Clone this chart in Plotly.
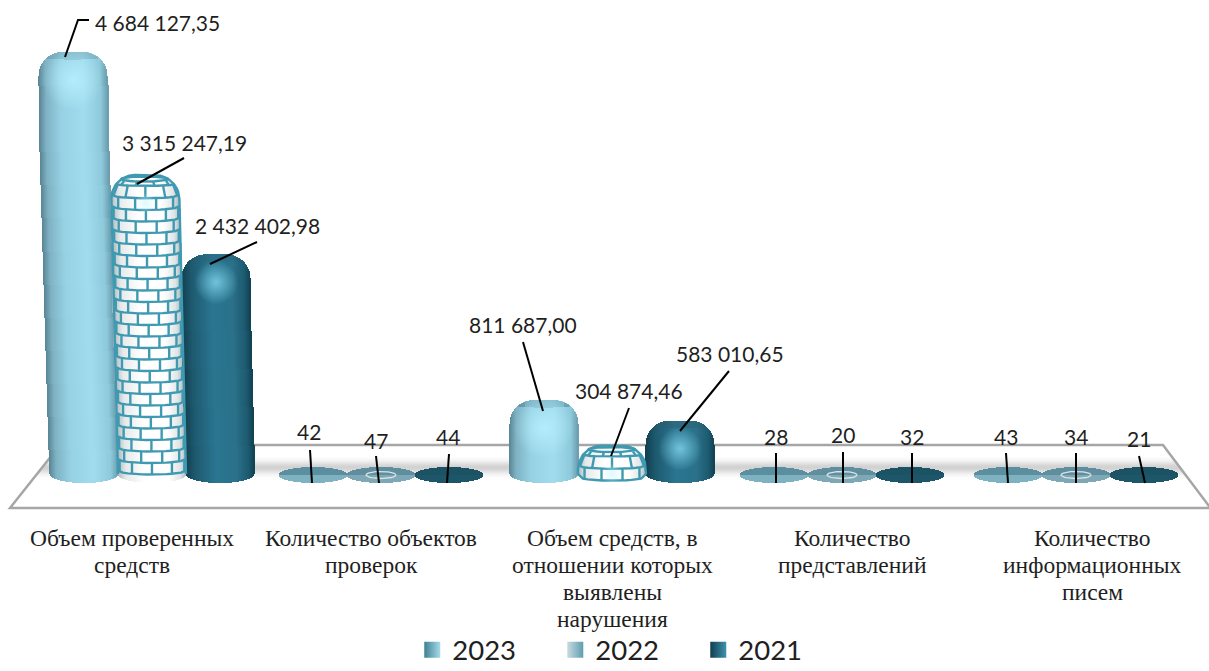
import math
import numpy as np
import plotly.graph_objects as go

# ---------- data ----------
categories = [
    "Объем проверенных<br>средств",
    "Количество объектов<br>проверок",
    "Объем средств, в<br>отношении которых<br>выявлены<br>нарушения",
    "Количество<br>представлений",
    "Количество<br>информационных<br>писем",
]
values_2023 = [4684127.35, 42, 811687.00, 28, 43]
values_2022 = [3315247.19, 47, 304874.46, 20, 34]
values_2021 = [2432402.98, 44, 583010.65, 32, 21]
series_names = ["2023", "2022", "2021"]

# ---------- layout constants (pixels of the 1209x671 page) ----------
W, H = 1209, 671
PLOT_BOTTOM = 510
ZERO_PX = 473
K = 11126.0  # data units per pixel
GROUP_X = [152, 381, 612, 842, 1076]
TICK_X = [132, 371, 612, 852, 1092]
OFF = [-68, 0, 68]
R = 34
SERIF = "Liberation Serif"
SANS = "Lato"
DARK = "#1f1f1f"


def yv(p):
    return (ZERO_PX - p) * K


def ramp(stops, u):
    xs = [s[0] for s in stops]
    ch = [np.interp(u, xs, [int(s[1][i:i + 2], 16) for s in stops]) for i in (1, 3, 5)]
    return "#%02x%02x%02x" % tuple(int(round(c)) for c in ch)


SHADES = [
    [(-1, "#5b8797"), (-.8, "#7fb3c4"), (-.35, "#97d2e4"), (.3, "#a0dcee"), (.8, "#8ecadb"), (1, "#6c9fb1")],
    [(-1, "#aab8bd"), (-.75, "#e6e9ea"), (-.2, "#ffffff"), (.5, "#ffffff"), (.85, "#dfe4e6"), (1, "#aebcc1")],
    [(-1, "#123f50"), (-.7, "#1d5a70"), (-.1, "#2b7590"), (.5, "#2a7189"), (.85, "#1d5a70"), (1, "#134455")],
]
ELLIPSE = [("#5b8f9f", "#7fb2c1"), ("#5f8f9e", "#7ea8b5"), ("#1b5365", "#1c5668")]


def drop(u, ry=24.0, u0=.3):
    t = max(0.0, (abs(u) - u0) / (1 - u0))
    t = min(t, 1.0)
    return ry * (1 - math.sqrt(1 - t * t))


def dome_w(dp):
    if dp >= 24:
        return 1.0
    return math.sqrt(max(0, 1 - (1 - dp / 24) ** 2)) * .7 + .3


def slope_at(c):
    return (612 - c) * 5.2e-5


fig = go.Figure()
all_series = [values_2023, values_2022, values_2021]
brick_x, brick_y = [], []
spot_x, spot_y, spot_c, spot_s = [], [], [], []
ring_x, ring_y = [], []

for s, vals in enumerate(all_series):
    xs, ys, bases, cols, widths = [], [], [], [], []
    cx, cy, cb = [], [], []
    for g, v in enumerate(vals):
        cbot = GROUP_X[g] + OFF[s]
        if v < 1000:  # flat discs for the small counts
            for u in np.linspace(-1, 1, 69):
                half = 8 * math.sqrt(max(0, 1 - u * u))
                if half <= 0:
                    continue
                xs += [cbot + u * R] * 2
                ys += [half * K, half * K]
                bases += [v - half * K - 2 * K, v - 2 * K]
                cols += [ELLIPSE[s][1], ELLIPSE[s][0]]
                widths += [1.5, 1.5]
            if s == 1:
                th = np.linspace(0, 2 * math.pi, 40)
                ring_x += list(cbot + 15 * np.cos(th)) + [None]
                ring_y += list(v - 2 * K + 3.5 * K * np.sin(th)) + [None]
            continue
        ptop = ZERO_PX - v / K
        slope = slope_at(cbot)
        height = 483 - ptop
        n = int(math.ceil(height * slope)) + 1
        for u in np.linspace(-1, 1, 69):
            t = ptop + drop(u)
            b = 474 + 9 * math.sqrt(max(0, 1 - u * u))
            col = ramp(SHADES[s], u)
            for i in range(n):
                a0 = ptop + i * height / n
                a1 = a0 + height / n + .6
                top = max(a0, t)
                bot = min(a1, b)
                if bot <= top:
                    continue
                mid = (a0 + a1) / 2
                xs.append(cbot - slope * (474 - mid) + u * R)
                ys.append((bot - top) * K)
                bases.append(yv(bot))
                cols.append(col)
                widths.append(1.5)
            if abs(u) < .75 and s != 1:
                depth = 8 * math.sqrt(1 - (u / .75) ** 2)
                cx.append(cbot - slope * (474 - t) + u * R)
                cy.append(depth * K)
                cb.append(yv(t + depth))
        spot_x.append(cbot - slope * (474 - ptop - 28))
        spot_y.append(yv(ptop + 28))
        spot_c.append(["rgba(185,240,255,.85)", "rgba(200,245,255,.6)", "rgba(130,215,240,.8)"][s])
        spot_s.append(60 if s == 0 else (20 if s == 1 else 44))
        if s == 1:  # brick joints following the cylinder and its dome
            # silhouette of the dome and sides
            for u_list in [np.linspace(-1, 1, 61)]:
                brick_x.append(cbot - R)
                brick_y.append(yv(474))
                for u in u_list:
                    pp = ptop + drop(u)
                    brick_x.append(cbot - slope * (474 - pp) + u * R)
                    brick_y.append(yv(pp))
                brick_x += [cbot + R, None]
                brick_y += [yv(474), None]
            top_c = cbot - slope * (474 - ptop)
            th = np.linspace(0, 2 * math.pi, 40)
            brick_x += list(top_c + R * dome_w(4) * np.cos(th)) + [None]
            brick_y += list(yv(ptop + 4) + 2.5 * K * np.sin(th)) + [None]
            row = 0
            p = ptop + 10
            while p < 482:
                dp = p - ptop
                w = dome_w(dp)
                sag = 4 * min(1, dp / 24)
                cc = cbot - slope * (474 - p)
                us = np.linspace(-1, 1, 15)
                brick_x += [cc + u * R * w for u in us] + [None]
                brick_y += [yv(min(p + sag * (math.sqrt(1 - u * u) - .5), 474 + 9 * math.sqrt(1 - u * u))) for u in us] + [None]
                step = 36
                deg = -90 + (18 if row % 2 else 0)
                while deg <= 90:
                    u = math.sin(math.radians(deg))
                    sg = sag * (math.sqrt(1 - u * u) - .5)
                    p0, p1 = max(p + sg - 11.5, ptop + 6), p + sg
                    if p1 <= 474 + 9 * math.sqrt(1 - u * u) + 1 and abs(u) < .995:
                        brick_x += [cc + u * R * dome_w(p0 - ptop), cc + u * R * dome_w(p1 - ptop), None]
                        brick_y += [yv(p0), yv(p1), None]
                    deg += step
                p += 11.5
                row += 1
    fig.add_trace(go.Bar(x=xs, y=ys, base=bases, width=widths, marker=dict(color=cols, line=dict(width=0)),
                         showlegend=False, hoverinfo="skip"))
    if cx:
        fig.add_trace(go.Bar(x=cx, y=cy, base=cb, width=1.5,
                             marker=dict(color="rgba(50,90,105,.20)", line=dict(width=0)),
                             showlegend=False, hoverinfo="skip"))

BRICK = "#3f9ab1"
fig.add_trace(go.Scatter(x=brick_x, y=brick_y, mode="lines", line=dict(color=BRICK, width=2.4),
                         showlegend=False, hoverinfo="skip", connectgaps=False))
fig.add_trace(go.Scatter(x=ring_x, y=ring_y, mode="lines", line=dict(color="#d9e4e7", width=1.3),
                         showlegend=False, hoverinfo="skip"))
for x, y, c, sz in zip(spot_x, spot_y, spot_c, spot_s):
    fig.add_trace(go.Scatter(x=[x], y=[y], mode="markers",
                             marker=dict(size=sz, color=c.rsplit(",", 1)[0] + ",0)", line=dict(width=0),
                                         gradient=dict(type="radial", color=c)),
                             showlegend=False, hoverinfo="skip"))

# ---------- data labels and leader lines ----------
def fmt(v):
    if v < 1000:
        return str(int(v))
    return f"{v:,.2f}".replace(",", " ").replace(".", ",")


LABEL_POS = [
    [(157, 22), (309, 431), (523, 324), (776, 436), (1006, 436)],
    [(184, 142), (376, 440), (629, 390), (843, 434), (1076, 436)],
    [(257, 225), (448, 436), (730, 353), (912, 436), (1139, 438)],
]
LEADERS = [
    [[(65, 57), (78, 20), (89, 20)], [(310, 450), (312, 483)], [(523, 342), (543, 411)], [(776, 453), (776, 483)], [(1006, 453), (1008, 483)]],
    [[(137, 184), (184, 158)], [(376, 456), (379, 483)], [(629, 408), (611, 456)], [(843, 452), (843, 483)], [(1076, 453), (1076, 483)]],
    [[(210, 264), (257, 242)], [(449, 454), (447, 483)], [(729, 371), (680, 431)], [(912, 453), (912, 483)], [(1139, 456), (1145, 483)]],
]
lx, ly = [], []
annotations = []
for s, vals in enumerate(all_series):
    for g, v in enumerate(vals):
        px, py = LABEL_POS[s][g]
        annotations.append(dict(x=px, y=yv(py), text=fmt(v), showarrow=False, xanchor="center", yanchor="middle",
                                font=dict(family=SANS, size=21, color=DARK)))
        for (a, b) in LEADERS[s][g]:
            lx.append(a)
            ly.append(yv(b))
        lx.append(None)
        ly.append(None)
fig.add_trace(go.Scatter(x=lx, y=ly, mode="lines", line=dict(color="#000000", width=2),
                         showlegend=False, hoverinfo="skip"))

# category labels, one annotation per line to hold the reference line spacing
for cat, tx in zip(categories, TICK_X):
    for i, line in enumerate(cat.split("<br>")):
        annotations.append(dict(x=tx / W, xref="paper", y=(PLOT_BOTTOM - (538 + 27 * i)) / PLOT_BOTTOM, yref="paper",
                                text=line, showarrow=False, xanchor="center", yanchor="middle",
                                font=dict(family=SERIF, size=23.5, color=DARK)))

# ---------- legend ----------
LEG = [("#3f7f92", "#a5dcea"), ("#c8dbe0", "#5f9db0"), ("#103f50", "#3f93ad")]
for name, (c, c2) in zip(series_names, LEG):
    fig.add_trace(go.Scatter(x=[None], y=[None], mode="markers", name=name,
                             marker=dict(symbol="square", size=20, color=c, line=dict(width=0),
                                         gradient=dict(type="horizontal", color=c2))))

# ---------- floor ----------
shapes = [dict(type="path", layer="below", xref="x", yref="y",
               path=f"M 10 {yv(508)} L 60 {yv(445)} L 1163 {yv(445)} L 1209 {yv(506)} L 1209 {yv(508)} Z",
               fillcolor="#ffffff", line=dict(color="#a6a6a6", width=2.5))]
for p in np.arange(452, 484, 1.0):
    a = .5 * math.exp(-((p - 467) / 6.0) ** 2)
    xl = 10 + (508 - p) * .8
    xr = 1163 + (p - 445) * .754
    shapes.append(dict(type="rect", layer="below", xref="x", yref="y", x0=xl, x1=xr, y0=yv(p), y1=yv(p + 1),
                       fillcolor=f"rgba(165,165,165,{a:.3f})", line=dict(width=0)))

fig.update_layout(
    width=W, height=H, margin=dict(l=0, r=0, t=0, b=H - PLOT_BOTTOM),
    paper_bgcolor="white", plot_bgcolor="white", barmode="overlay", bargap=0,
    annotations=annotations, shapes=shapes,
    xaxis=dict(range=[0, W], showticklabels=False, showgrid=False,
               zeroline=False, showline=False, ticks="", fixedrange=True),
    yaxis=dict(range=[yv(PLOT_BOTTOM), yv(0)], visible=False, fixedrange=True),
    legend=dict(orientation="h", x=.341, xanchor="left", yref="container", y=.068, yanchor="top", entrywidth=98,
                entrywidthmode="pixels", font=dict(family=SANS, size=27.5, color=DARK), bgcolor="rgba(0,0,0,0)",
                tracegroupgap=0),
    showlegend=True,
)
fig.write_html("out.html", config={"displayModeBar": False}, post_script="document.body.style.margin='0';")
